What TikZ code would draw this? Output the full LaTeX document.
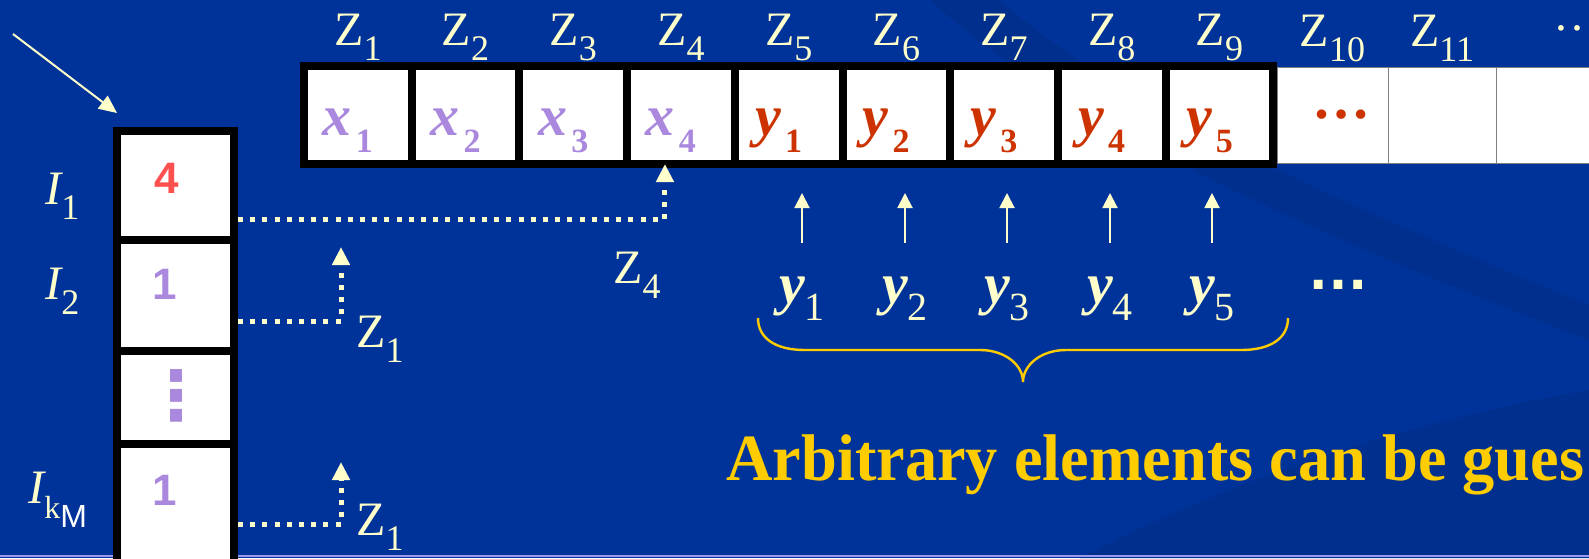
\documentclass[tikz,border=0pt]{standalone}
\usepackage{fontspec}
\setmainfont{Liberation Serif}
\setsansfont{Liberation Sans}
\newfontfamily\symfont{DejaVu Sans}
\usepackage{tikz}
\usetikzlibrary{arrows.meta,positioning}
\usepackage{xcolor}
\definecolor{slideblue}{HTML}{003399}
\definecolor{swoosh}{HTML}{002F8D}
\definecolor{cream}{HTML}{FFFFCC}
\definecolor{lavender}{HTML}{AA88DD}
\definecolor{rust}{HTML}{CC3300}
\definecolor{salmon}{HTML}{FF5050}
\definecolor{gold}{HTML}{FFCC00}
\definecolor{rulecol}{HTML}{9999EE}

\newcommand{\zsub}[2]{{#1}\raisebox{-7.5pt}{\fontsize{18}{18}\selectfont #2}}
\newcommand{\xsub}[2]{{\itshape #1}\hspace{2pt}\raisebox{-8.5pt}{\fontsize{17}{17}\selectfont #2}}
\newcommand{\ysub}[2]{{\bfseries\itshape #1}\raisebox{-8.5pt}{\fontsize{20}{20}\selectfont #2}}

\tikzset{
  cell/.style={draw=black, line width=4pt, fill=white, minimum width=53.85pt, minimum height=49pt,
    inner sep=0pt, outer sep=0pt, text height=30pt, text depth=10pt,
    font=\fontsize{29}{29}\selectfont\bfseries, execute at end node=\hspace{10pt}},
  opencell/.style={draw=gray, line width=0.5pt, fill=white, minimum width=54pt, minimum height=48pt,
    inner sep=0pt, outer sep=0pt},
  lcell/.style={draw=black, line width=4pt, fill=white, minimum width=58.5pt, inner sep=0pt, outer sep=0pt},
  zlbl/.style={text=cream, font=\fontsize{24}{24}\selectfont, inner sep=0pt, anchor=base},
  ylbl/.style={text=cream, font=\fontsize{29}{29}\selectfont, inner sep=0pt, anchor=base, text height=13.5pt},
  numtxt/.style={font=\sffamily\bfseries\fontsize{22}{22}\selectfont, inner sep=0pt},
  hint/.style={cream, line width=2.5pt, dash pattern=on 2.5pt off 3.6pt, -{Triangle[width=8.5pt,length=9pt]}},
  uparr/.style={cream, line width=1pt, -{Triangle[width=7.5pt,length=7.5pt]}},
  ptrarrow/.style={cream, line width=1pt, -{Triangle[width=8pt,length=9pt]}}
}

\begin{document}
\begin{tikzpicture}[x=0.5pt, y=-0.5pt]
  \useasboundingbox (0,0) rectangle (1589,558);
  \clip (0,0) rectangle (1589,558);

  % slide background
  \fill[slideblue] (0,0) rectangle (1589,558);
  \fill[swoosh] (930,0) .. controls (1060,120) and (1300,230) .. (1589,340) -- (1589,305)
    .. controls (1330,200) and (1110,100) .. (1000,0) -- cycle;
  \fill[swoosh] (1080,558) .. controls (1250,470) and (1420,420) .. (1589,390) -- (1589,558) -- cycle;
  \draw[rulecol, line width=1pt] (0,556) -- (1589,556);

  % open cells after the frame
  \node[opencell, minimum width=55.5pt] (z10) at (1332.5,115)
    {\fontsize{29}{29}\selectfont\bfseries\color{rust}\hspace{8.5pt}…};
  \node[opencell, right=0pt of z10] (z11) {};
  \node[opencell, right=0pt of z11] (z12) {};

  % array Z
  \node[cell, text=lavender] (z1) at (357.85,115) {\xsub{x}{1}};
  \node[cell, text=lavender, right=0pt of z1] (z2) {\xsub{x}{2}};
  \node[cell, text=lavender, right=0pt of z2] (z3) {\xsub{x}{3}};
  \node[cell, text=lavender, right=0pt of z3] (z4) {\xsub{x}{4}};
  \node[cell, text=rust, right=0pt of z4] (z5) {\xsub{y}{1}};
  \node[cell, text=rust, right=0pt of z5] (z6) {\xsub{y}{2}};
  \node[cell, text=rust, right=0pt of z6] (z7) {\xsub{y}{3}};
  \node[cell, text=rust, right=0pt of z7] (z8) {\xsub{y}{4}};
  \node[cell, text=rust, right=0pt of z8] (z9) {\xsub{y}{5}};

  \node[zlbl] (lz1) at ([yshift=10.5pt]z1.north) {\zsub{Z}{1}};
  \node[zlbl] (lz2) at ([yshift=10.5pt]z2.north) {\zsub{Z}{2}};
  \node[zlbl] (lz3) at ([yshift=10.5pt]z3.north) {\zsub{Z}{3}};
  \node[zlbl] (lz4) at ([yshift=10.5pt]z4.north) {\zsub{Z}{4}};
  \node[zlbl] (lz5) at ([yshift=10.5pt]z5.north) {\zsub{Z}{5}};
  \node[zlbl] (lz6) at ([yshift=10.5pt]z6.north) {\zsub{Z}{6}};
  \node[zlbl] (lz7) at ([yshift=10.5pt]z7.north) {\zsub{Z}{7}};
  \node[zlbl] (lz8) at ([yshift=10.5pt]z8.north) {\zsub{Z}{8}};
  \node[zlbl] (lz9) at ([yshift=10.5pt]z9.north) {\zsub{Z}{9}};
  \node[zlbl] (lz10) at ([yshift=10.5pt]z10.north) {\zsub{Z}{10}};
  \node[zlbl] (lz11) at ([yshift=10.5pt]z11.north) {\zsub{Z}{11}};
  \node[zlbl, anchor=base west] (lzmore) at (1553,30) {…};

  % index column I
  \node[lcell, minimum height=54.5pt] (ic1) at (175.5,185.5) {};
  \node[lcell, minimum height=55.5pt, below=0pt of ic1] (ic2) {};
  \node[lcell, minimum height=46.5pt, below=0pt of ic2] (ic3) {};
  \node[lcell, minimum height=78pt, below=0pt of ic3] (ic4) {};

  \node[numtxt, text=salmon] (n1) at (167,178) {4};
  \node[numtxt, text=lavender] (n2) at (165,284) {1};
  \node[numtxt, text=lavender, font=\symfont\bfseries\fontsize{34}{34}\selectfont] (n3) at (176,395.5) {⋮};
  \node[numtxt, text=lavender] (n4) at (165,490) {1};

  \node[zlbl, anchor=base west] (li1) at (45,204) {\zsub{\itshape I}{1}};
  \node[zlbl, anchor=base west] (li2) at (45,299) {\zsub{\itshape I}{2}};
  \node[zlbl, anchor=base west] (lik) at (28,503)
    {{\itshape I}\raisebox{-7.5pt}{\fontsize{16}{16}\selectfont k\raisebox{-4.5pt}{\sffamily\color{white}M}}};

  \coordinate (ptr) at (13,34);
  \draw[ptrarrow] (ptr) -- ([yshift=9pt]ic1.north west);

  % pointers into Z
  \coordinate (up2) at (341,247);
  \coordinate (up4) at (341,462);
  \draw[hint] ([xshift=2pt,yshift=-16.75pt]ic1.east) -| ([xshift=-8pt]z4.south);
  \draw[hint] ([xshift=2pt,yshift=-12.75pt]ic2.east) -| (up2);
  \draw[hint] ([xshift=2pt,yshift=-1pt]ic4.east) -| (up4);
  \node[zlbl, anchor=base west] (lp4) at (613,283) {\zsub{Z}{4}};
  \node[zlbl, anchor=base west] (lp2) at (356,347) {\zsub{Z}{1}};
  \node[zlbl, anchor=base west] (lp1) at (356,535) {\zsub{Z}{1}};

  % guessed elements
  \node[ylbl] (ly1) at (802,303) {\ysub{y}{1}};
  \node[ylbl] (ly2) at (905,303) {\ysub{y}{2}};
  \node[ylbl] (ly3) at (1007,303) {\ysub{y}{3}};
  \node[ylbl] (ly4) at (1110,303) {\ysub{y}{4}};
  \node[ylbl] (ly5) at (1212,303) {\ysub{y}{5}};
  \node[font=\sffamily\bfseries\fontsize{31}{31}\selectfont, text=cream, inner sep=0pt] (lymore) at (1338,285) {…};

  \draw[uparr, shorten <=16.5pt, shorten >=14.5pt] (ly1.north) -- (ly1.north |- z5.south);
  \draw[uparr, shorten <=16.5pt, shorten >=14.5pt] (ly2.north) -- (ly2.north |- z6.south);
  \draw[uparr, shorten <=16.5pt, shorten >=14.5pt] (ly3.north) -- (ly3.north |- z7.south);
  \draw[uparr, shorten <=16.5pt, shorten >=14.5pt] (ly4.north) -- (ly4.north |- z8.south);
  \draw[uparr, shorten <=16.5pt, shorten >=14.5pt] (ly5.north) -- (ly5.north |- z9.south);

  \draw[gold, line width=1.2pt] (758,318) .. controls (758,338) and (775,350) .. (805,350) -- (980,350)
    .. controls (1005,350) and (1023,365) .. (1023,382) .. controls (1023,365) and (1041,350) .. (1066,350)
    -- (1241,350) .. controls (1271,350) and (1288,338) .. (1288,318);

  \node[font=\bfseries\fontsize{33}{33}\selectfont, text=gold, anchor=base west, inner sep=0pt] (msg)
    at (726,480) {\scalebox{0.975}[1]{Arbitrary elements can be gues}};
\end{tikzpicture}
\end{document}
